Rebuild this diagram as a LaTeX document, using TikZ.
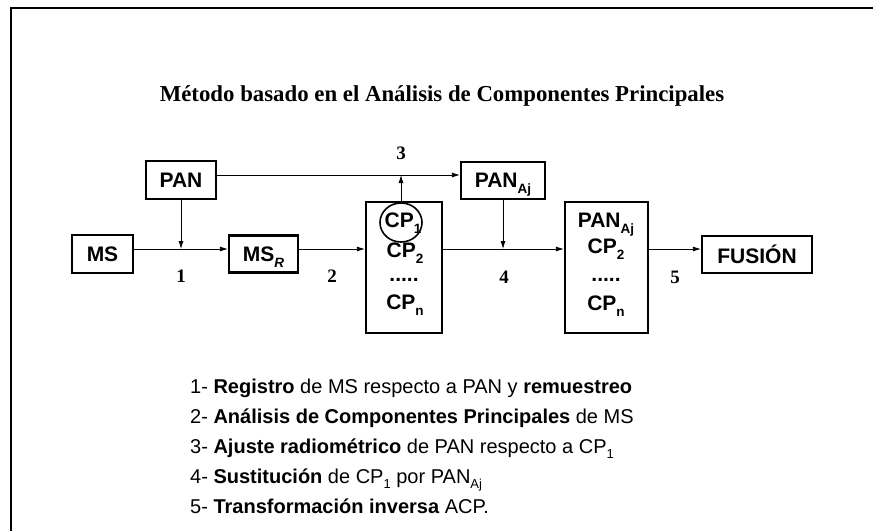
\documentclass[tikz,border=0pt]{standalone}
\usepackage{fontspec}
\setmainfont{Liberation Serif}
\setsansfont{Liberation Sans}
\usetikzlibrary{arrows.meta}
\newcommand{\bsub}[1]{\raisebox{-6pt}[0pt][0pt]{\fontsize{13.5}{13.5}\selectfont #1}}
\newcommand{\lsub}[1]{\raisebox{-5pt}[0pt][0pt]{\fontsize{13}{13}\selectfont #1}}
\begin{document}
\begin{tikzpicture}[x=1pt,y=-1pt,
  blk/.style={draw, line width=2.2pt, inner sep=0pt, font=\sffamily\bfseries\fontsize{21}{24}\selectfont},
  cell/.style={inner sep=0pt, font=\sffamily\bfseries\fontsize{21}{24}\selectfont},
  arr/.style={line width=0.8pt, -{Latex[length=8pt,width=5pt]}},
  num/.style={font=\rmfamily\bfseries\fontsize{19}{21}\selectfont},
  leg/.style={anchor=base west, inner sep=0pt, font=\sffamily\fontsize{20}{22}\selectfont}]
\useasboundingbox (0,0) rectangle (873,531);
\draw[line width=2pt] (10.5,531) -- (10.5,7.5) -- (873,7.5);
\node[font=\rmfamily\bfseries\fontsize{22.8}{26}\selectfont] (title) at (442,96) {Método basado en el Análisis de Componentes Principales};
\coordinate (L) at (0,249);
\coordinate (T) at (0,175);
\node[blk, minimum width=61pt, minimum height=38pt] (ms) at (102.5,254) {MS};
\node[blk, minimum width=70pt, minimum height=38pt] (pan) at (181,180) {PAN};
\node[blk, minimum width=69pt, minimum height=37pt] (msr) at (263.5,254) {MS\bsub{\itshape R}};
\node[blk, minimum width=76pt, minimum height=131pt] (cpbox) at (404,267.5) {};
\node[blk, minimum width=84pt, minimum height=37pt] (panaj) at (503,180.5) {PAN\bsub{Aj}};
\node[blk, minimum width=83pt, minimum height=131pt] (box2) at (606.5,267.5) {};
\node[blk, minimum width=110pt, minimum height=37pt] (fus) at (757,254.5) {FUSIÓN};
% contents of CP box
\node[cell] (cp1) at (403,220) {CP\bsub{1}};
\node[cell] (cp2) at (405,250) {CP\bsub{2}};
\node[cell] (dots1) at (404,280) {.....};
\node[cell] (cpn) at (405,302) {CP\bsub{n}};
\draw[line width=1.6pt] (401,222.5) ellipse [x radius=21pt, y radius=19.5pt];
% contents of second box
\node[cell] (pa2) at (606,220) {PAN\bsub{Aj}};
\node[cell] (cq2) at (606,246) {CP\bsub{2}};
\node[cell] (dots2) at (606,280) {.....};
\node[cell] (cqn) at (606,303) {CP\bsub{n}};
% connectors
\draw[arr] (ms.east |- L) -- (msr.west |- L);
\draw[arr] (pan.south) -- (pan.south |- L);
\draw[arr] (msr.east |- L) -- (cpbox.west |- L);
\draw[arr] (pan.east |- T) -- (panaj.west |- T);
\draw[arr] (cpbox.north -| 401,0) -- (401,175);
\draw[arr] (panaj.south) -- (panaj.south |- L);
\draw[arr] (cpbox.east |- L) -- (box2.west |- L);
\draw[arr] (box2.east |- L) -- (fus.west |- L);
% step numbers
\node[num] (n1) at (181,276) {1};
\node[num] (n2) at (332,276) {2};
\node[num] (n3) at (401,153) {3};
\node[num] (n4) at (504,277) {4};
\node[num] (n5) at (675,277) {5};
% legend
\node[leg] (l1) at (190,393) {1- \textbf{Registro} de MS respecto a PAN y \textbf{remuestreo}};
\node[leg] (l2) at (190,423) {2- \textbf{Análisis de Componentes Principales} de MS};
\node[leg] (l3) at (190,453) {3- \textbf{Ajuste radiométrico} de PAN respecto a CP\lsub{1}};
\node[leg] (l4) at (190,483) {4- \textbf{Sustitución} de CP\lsub{1} por PAN\lsub{Aj}};
\node[leg] (l5) at (190,513) {5- \textbf{Transformación inversa} ACP.};
\end{tikzpicture}
\end{document}
